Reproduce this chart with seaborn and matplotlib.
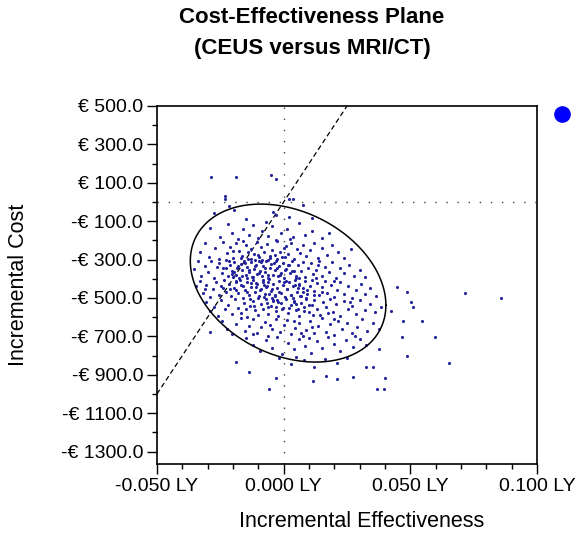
import numpy as np
import matplotlib
matplotlib.use('Agg')
import matplotlib.pyplot as plt
import seaborn as sns
import pandas as pd
from matplotlib.ticker import FixedLocator, MultipleLocator, FuncFormatter
from matplotlib.lines import Line2D

# simulated (effectiveness LY, cost EUR) pairs
above_zero = [(-0.0286, 128), (-0.0189, 128), (-0.0050, 139), (-0.0030, 122), (-0.0231, 30),
              (-0.0231, 13), (0.0023, 18), (0.0038, 13)]
band_0_100 = [(-0.0215, -22), (0.0075, -17), (-0.0196, -44), (-0.0044, -51), (-0.0030, -69),
              (-0.0275, -60), (0.0110, -85), (-0.0150, -90), (0.0020, -78)]
band_100_200 = [(-0.0290, -135), (-0.0250, -180), (-0.0220, -115), (-0.0205, -160), (-0.0180, -195),
                (-0.0160, -140), (-0.0135, -170), (-0.0120, -120), (-0.0100, -188), (-0.0085, -150),
                (-0.0060, -175), (-0.0045, -125), (-0.0030, -198), (-0.0010, -160), (0.0015, -140),
                (0.0035, -185), (0.0060, -110), (0.0085, -170), (0.0110, -150), (0.0150, -190),
                (0.0180, -160), (-0.0070, -105), (0.0025, -195)]
band_200_300 = [(-0.0330, -260), (-0.0310, -215), (-0.0295, -285), (-0.0270, -240), (-0.0255, -295),
                (-0.0240, -210), (-0.0225, -265), (-0.0210, -235), (-0.0200, -290), (-0.0188, -215),
                (-0.0175, -255), (-0.0165, -280), (-0.0150, -225), (-0.0140, -298), (-0.0130, -245),
                (-0.0118, -270), (-0.0105, -210), (-0.0098, -285), (-0.0090, -235), (-0.0078, -262),
                (-0.0065, -218), (-0.0055, -292), (-0.0048, -248), (-0.0035, -275), (-0.0025, -205),
                (-0.0015, -258), (-0.0005, -288), (0.0008, -230), (0.0018, -270), (0.0030, -212),
                (0.0040, -295), (0.0052, -245), (0.0065, -268), (0.0078, -222), (0.0090, -280),
                (0.0105, -250), (0.0120, -215), (0.0135, -290), (0.0150, -240), (0.0170, -275),
                (0.0190, -225), (0.0215, -260), (0.0240, -290), (0.0265, -245), (-0.0160, -205),
                (-0.0060, -300), (0.0000, -240), (-0.0200, -255)]
band_300_400 = [(-0.0355, -350), (-0.0340, -310), (-0.0325, -385), (-0.0310, -335), (-0.0300, -365),
                (-0.0288, -305), (-0.0275, -395), (-0.0265, -340), (-0.0255, -318), (-0.0245, -372),
                (-0.0238, -345), (-0.0228, -302), (-0.0220, -388), (-0.0212, -330), (-0.0205, -360),
                (-0.0198, -315), (-0.0190, -378), (-0.0183, -342), (-0.0176, -398), (-0.0170, -325),
                (-0.0163, -355), (-0.0156, -308), (-0.0150, -382), (-0.0143, -338), (-0.0137, -367),
                (-0.0130, -312), (-0.0124, -392), (-0.0118, -350), (-0.0111, -328), (-0.0105, -375),
                (-0.0099, -305), (-0.0093, -358), (-0.0087, -385), (-0.0080, -332), (-0.0074, -365),
                (-0.0068, -310), (-0.0061, -395), (-0.0055, -345), (-0.0049, -322), (-0.0042, -378),
                (-0.0036, -352), (-0.0030, -307), (-0.0023, -388), (-0.0017, -336), (-0.0010, -368),
                (-0.0004, -318), (0.0003, -395), (0.0010, -348), (0.0017, -326), (0.0025, -372),
                (0.0033, -305), (0.0041, -358), (0.0050, -384), (0.0058, -330), (0.0067, -362),
                (0.0076, -312), (0.0086, -390), (0.0096, -342), (0.0106, -320), (0.0117, -376),
                (0.0128, -352), (0.0140, -308), (0.0152, -385), (0.0165, -338), (0.0178, -366),
                (0.0192, -315), (0.0207, -395), (0.0222, -345), (0.0240, -372), (0.0258, -328),
                (0.0278, -388), (0.0300, -356), (0.0322, -392), (-0.0145, -395), (-0.0085, -300),
                (0.0005, -355), (-0.0200, -392), (0.0062, -398), (0.0135, -330), (-0.0060, -380)]
band_400_500 = [(-0.0345, -440), (-0.0330, -410), (-0.0318, -475), (-0.0305, -430), (-0.0292, -495),
                (-0.0280, -455), (-0.0268, -415), (-0.0257, -482), (-0.0246, -438), (-0.0236, -405),
                (-0.0226, -468), (-0.0216, -425), (-0.0206, -490), (-0.0197, -448), (-0.0188, -412),
                (-0.0179, -476), (-0.0170, -435), (-0.0162, -498), (-0.0154, -458), (-0.0146, -418),
                (-0.0138, -485), (-0.0130, -442), (-0.0122, -405), (-0.0114, -470), (-0.0106, -428),
                (-0.0098, -492), (-0.0090, -452), (-0.0082, -415), (-0.0074, -480), (-0.0066, -438),
                (-0.0058, -402), (-0.0050, -465), (-0.0042, -425), (-0.0034, -488), (-0.0026, -446),
                (-0.0018, -410), (-0.0010, -474), (-0.0002, -432), (0.0006, -496), (0.0014, -455),
                (0.0022, -418), (0.0030, -483), (0.0038, -440), (0.0046, -406), (0.0054, -468),
                (0.0062, -428), (0.0070, -492), (0.0078, -450), (0.0086, -414), (0.0094, -478),
                (0.0103, -436), (0.0112, -404), (0.0121, -462), (0.0131, -422), (0.0141, -487),
                (0.0151, -445), (0.0162, -410), (0.0173, -472), (0.0185, -432), (0.0197, -495),
                (0.0210, -456), (0.0224, -418), (0.0238, -480), (0.0253, -440), (0.0269, -498),
                (0.0286, -460), (0.0304, -425), (0.0323, -478), (0.0342, -450), (0.0365, -490),
                (-0.0110, -445), (-0.0045, -498), (0.0010, -412), (0.0058, -446), (-0.0190, -460),
                (-0.0078, -430), (0.0092, -458), (-0.0020, -468), (0.0150, -470), (-0.0130, -420),
                (0.0035, -500), (-0.0240, -450), (0.0200, -410), (-0.0310, -455), (0.0045, -430)]
band_500_600 = [(-0.0305, -520), (-0.0290, -570), (-0.0275, -545), (-0.0260, -595), (-0.0246, -512),
                (-0.0232, -560), (-0.0218, -535), (-0.0205, -585), (-0.0192, -505), (-0.0180, -550),
                (-0.0168, -578), (-0.0156, -525), (-0.0145, -598), (-0.0134, -542), (-0.0123, -515),
                (-0.0112, -565), (-0.0101, -590), (-0.0091, -530), (-0.0081, -555), (-0.0071, -508),
                (-0.0061, -582), (-0.0051, -540), (-0.0041, -518), (-0.0031, -568), (-0.0021, -595),
                (-0.0011, -528), (-0.0001, -552), (0.0009, -505), (0.0019, -580), (0.0029, -538),
                (0.0039, -515), (0.0049, -562), (0.0059, -592), (0.0069, -525), (0.0079, -548),
                (0.0089, -502), (0.0099, -575), (0.0110, -535), (0.0121, -512), (0.0132, -560),
                (0.0144, -588), (0.0156, -522), (0.0168, -545), (0.0181, -505), (0.0194, -572),
                (0.0208, -532), (0.0222, -596), (0.0237, -515), (0.0252, -558), (0.0268, -540),
                (0.0285, -585), (0.0302, -510), (0.0320, -565), (0.0340, -530), (0.0362, -575),
                (0.0385, -545), (0.0050, -530), (-0.0060, -545), (0.0115, -590), (-0.0150, -560),
                (0.0020, -550), (0.0175, -580), (-0.0025, -510), (0.0080, -570), (-0.0100, -500),
                (0.0260, -520)]
band_600_700 = [(-0.0245, -620), (-0.0225, -660), (-0.0205, -690), (-0.0188, -635), (-0.0170, -605),
                (-0.0153, -672), (-0.0137, -645), (-0.0121, -612), (-0.0105, -685), (-0.0090, -650),
                (-0.0075, -625), (-0.0060, -698), (-0.0045, -662), (-0.0030, -608), (-0.0015, -678),
                (0.0000, -640), (0.0015, -615), (0.0030, -690), (0.0045, -655), (0.0060, -628),
                (0.0075, -700), (0.0090, -665), (0.0105, -618), (0.0120, -682), (0.0135, -645),
                (0.0150, -605), (0.0166, -675), (0.0182, -638), (0.0198, -695), (0.0215, -620),
                (0.0232, -660), (0.0250, -632), (0.0268, -685), (0.0288, -650), (0.0308, -612),
                (0.0330, -670), (0.0352, -630), (0.0375, -660), (0.0040, -620), (-0.0055, -640),
                (0.0110, -650), (0.0200, -610), (-0.0120, -690), (0.0070, -680), (0.0280, -700)]
band_700_900 = [(-0.0150, -710), (-0.0120, -745), (-0.0095, -775), (-0.0070, -720), (-0.0048, -760),
                (-0.0025, -705), (-0.0005, -790), (0.0018, -735), (0.0040, -768), (0.0062, -715),
                (0.0085, -750), (0.0108, -785), (0.0130, -725), (0.0152, -760), (0.0175, -705),
                (0.0198, -740), (0.0222, -775), (0.0248, -720), (0.0272, -755), (0.0300, -712),
                (0.0325, -745), (0.0100, -710), (-0.0020, -815), (0.0030, -845), (0.0080, -825),
                (0.0120, -860), (0.0165, -820), (0.0210, -838), (0.0050, -805), (0.0250, -812)]
# extra points in the dense core, left of centre
core_dense = [(-0.0142, -262), (-0.0127, -298), (-0.0113, -336), (-0.0096, -371), (-0.0083, -404),
              (-0.0069, -441), (-0.0057, -477), (-0.0044, -512), (-0.0031, -546), (-0.0152, -318),
              (-0.0137, -352), (-0.0121, -389), (-0.0108, -423), (-0.0094, -458), (-0.0079, -493),
              (-0.0066, -527), (-0.0052, -283), (-0.0039, -316), (-0.0026, -343), (-0.0013, -381),
              (0.0001, -416), (0.0014, -451), (0.0028, -486), (0.0041, -521), (0.0055, -556),
              (-0.0168, -293), (-0.0181, -331), (-0.0195, -366), (-0.0173, -404), (-0.0159, -437),
              (-0.0146, -471), (-0.0133, -506), (-0.0119, -541), (-0.0103, -276), (-0.0089, -311),
              (-0.0075, -346), (-0.0062, -418), (-0.0048, -452), (-0.0035, -487), (-0.0021, -522),
              (-0.0008, -557), (0.0007, -289), (0.0021, -326), (0.0034, -361), (0.0048, -397),
              (0.0061, -434), (0.0075, -469), (0.0088, -504), (0.0101, -539), (-0.0215, -305),
              (-0.0228, -343), (-0.0204, -377), (-0.0187, -419), (-0.0212, -452), (-0.0166, -387),
              (-0.0115, -304), (-0.0027, -298), (0.0063, -492), (0.0118, -486), (0.0127, -397)]
outliers = [(0.0449, -442), (0.0488, -468), (0.0717, -476), (0.0856, -502), (0.0502, -520),
            (0.0512, -549), (0.0424, -568), (0.0472, -619), (0.0545, -619), (0.0468, -702),
            (0.0596, -702), (0.0488, -801), (0.0654, -840), (0.0376, -766), (0.0324, -858),
            (0.0351, -858), (0.0168, -906), (0.0115, -932), (0.0210, -924), (0.0274, -910),
            (0.0400, -915), (0.0369, -976), (0.0396, -976), (-0.0189, -835), (-0.0136, -884),
            (-0.0057, -976), (-0.0030, -918), (-0.0291, -676)]

# 95% confidence ellipse summary of the cloud
ell_center_eff = 0.00175
ell_center_cost = -422.5
ell_half_eff = 0.0386
ell_half_cost = 411.5
ell_corr = -0.28

# willingness-to-pay threshold (EUR per LY)
wtp = 20000

x_ticks = [-0.05, 0.0, 0.05, 0.10]
y_ticks = [500, 300, 100, -100, -300, -500, -700, -900, -1100, -1300]

pts = pd.DataFrame(above_zero + band_0_100 + band_100_200 + band_200_300 + band_300_400
                   + band_400_500 + band_500_600 + band_600_700 + band_700_900
                   + core_dense + outliers,
                   columns=['eff', 'cost'])

t = np.linspace(0, 2 * np.pi, 300)
u = np.cos(t)
v = ell_corr * np.cos(t) + np.sqrt(1 - ell_corr ** 2) * np.sin(t)
ell = pd.DataFrame({'eff': ell_center_eff + ell_half_eff * u,
                    'cost': ell_center_cost + ell_half_cost * v})

wtp_x = np.array([-0.05, 0.10])
wtp_line = pd.DataFrame({'eff': wtp_x, 'cost': wtp * wtp_x})

sns.set_style('ticks')
plt.rcParams['font.family'] = ['Liberation Sans', 'DejaVu Sans']
plt.rcParams['text.color'] = 'black'
plt.rcParams['axes.labelcolor'] = 'black'

fig = plt.figure(figsize=(5.77, 5.44), dpi=100)
ax = fig.add_axes([157 / 577, 1 - 464 / 544, 380 / 577, 358 / 544])

ax.axhline(0, color='#444444', lw=1.0, ls=(0, (1, 7)), zorder=1)
ax.axvline(0, color='#444444', lw=1.0, ls=(0, (1, 7)), zorder=1)
sns.lineplot(data=wtp_line, x='eff', y='cost', ax=ax, color='black', lw=0.9,
             ls=(0, (4, 2.5)), sort=False, zorder=2)
sns.scatterplot(data=pts, x='eff', y='cost', ax=ax, s=5, color='#23239e',
                linewidth=0, zorder=3)
sns.lineplot(data=ell, x='eff', y='cost', ax=ax, color='black', lw=1.1,
             sort=False, estimator=None, zorder=4)

ax.set_xlim(-0.05, 0.10)
ax.set_ylim(-1365, 500)
ax.xaxis.set_major_locator(FixedLocator(x_ticks))
ax.xaxis.set_minor_locator(MultipleLocator(0.01))
ax.yaxis.set_major_locator(FixedLocator(y_ticks))
ax.yaxis.set_minor_locator(MultipleLocator(100))
ax.xaxis.set_major_formatter(FuncFormatter(lambda v, p: f'{v:.3f} LY'))
ax.yaxis.set_major_formatter(FuncFormatter(
    lambda v, p: f'€ {v:.1f}' if v >= 0 else f'-€ {abs(v):.1f}'))
ax.tick_params(which='major', length=7, width=1, pad=3, labelsize=14, colors='black')
ax.tick_params(which='minor', length=3.5, width=1, colors='black')
for s in ax.spines.values():
    s.set_linewidth(1.2)
    s.set_color('black')

ax.set_xlabel('Incremental Effectiveness', fontsize=15.5, color='black')
ax.set_ylabel('Incremental Cost', fontsize=15.5, color='black')
ax.xaxis.set_label_coords((362 - 157) / 380, -0.162)
ax.yaxis.set_label_coords((19 - 157) / 380, 0.5)
ax.xaxis.label.set_va('center')
ax.yaxis.label.set_va('center')

fig.text(312 / 577, 1 - 7 / 544, 'Cost-Effectiveness Plane\n(CEUS versus MRI/CT)',
         ha='center', va='top', fontsize=16, fontweight='bold', linespacing=1.6,
         multialignment='center', color='black')

marker = Line2D([], [], marker='o', ls='none', color='#0000ff', markersize=11)
fig.legend(handles=[marker], labels=[''], loc='center', frameon=False,
           bbox_to_anchor=(562 / 577, 1 - 115 / 544), handlelength=1, handletextpad=0,
           borderpad=0, borderaxespad=0)

fig.savefig('out.png', dpi=100)
